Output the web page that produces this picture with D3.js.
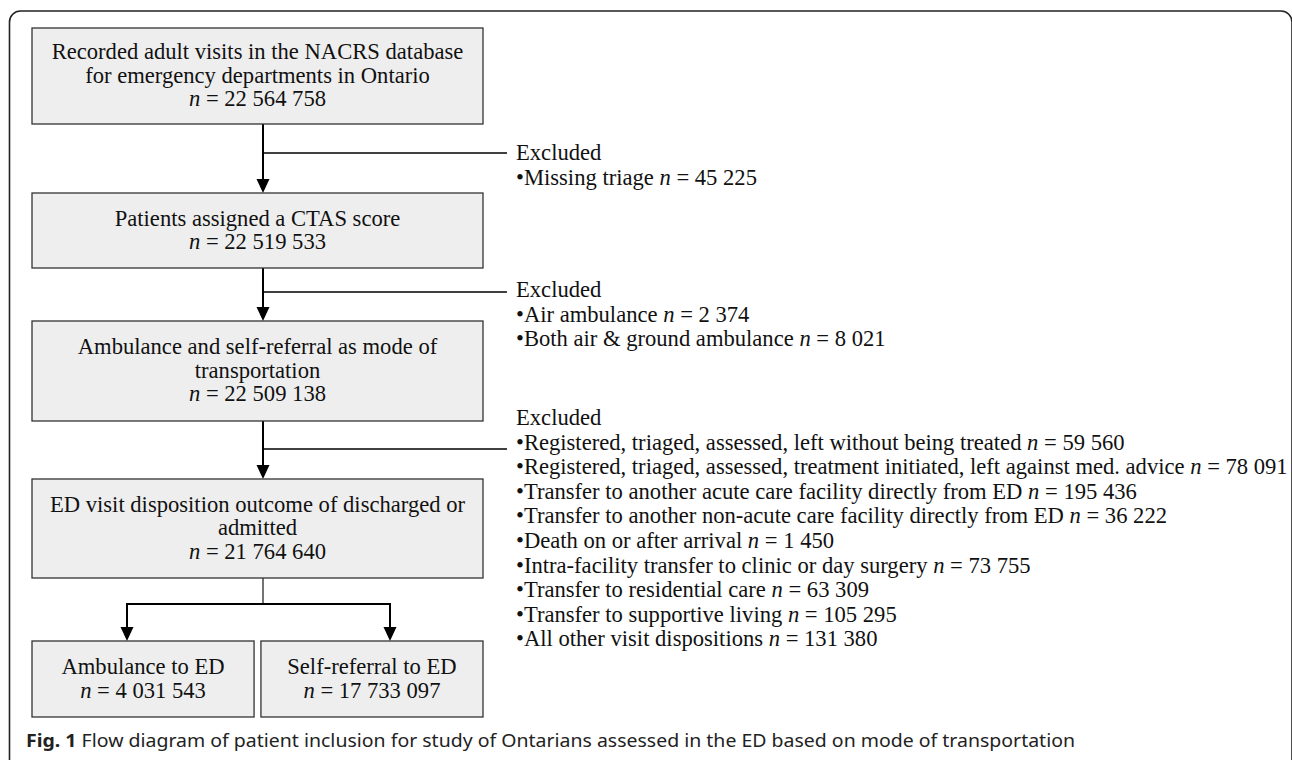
<!DOCTYPE html>
<html>
<head>
<meta charset="utf-8">
<script src="https://cdn.jsdelivr.net/npm/d3@7"></script>
<style>
  body { margin: 0; background: #fff; }
  .boxText, .exText { font-family: "Liberation Serif", "Times New Roman", serif; font-size: 22.6px; fill: #111; }
  .caption { font-family: "Noto Sans", sans-serif; font-size: 18px; fill: #222; }
</style>
</head>
<body>
<div id="flow"></div>
<script>
// flow steps (main column)
const stepLabels = [
    ["Recorded adult visits in the NACRS database", "for emergency departments in Ontario"],
    ["Patients assigned a CTAS score"],
    ["Ambulance and self-referral as mode of", "transportation"],
    ["ED visit disposition outcome of discharged or", "admitted"]
];
const stepCounts = [22564758, 22519533, 22509138, 21764640];

// final split
const splitLabels = [["Ambulance to ED"], ["Self-referral to ED"]];
const splitCounts = [4031543, 17733097];

// exclusions between steps
const excludedTitle = "Excluded";
const excludedLabels = [
    ["Missing triage"],
    ["Air ambulance", "Both air & ground ambulance"],
    ["Registered, triaged, assessed, left without being treated",
     "Registered, triaged, assessed, treatment initiated, left against med. advice",
     "Transfer to another acute care facility directly from ED",
     "Transfer to another non-acute care facility directly from ED",
     "Death on or after arrival",
     "Intra-facility transfer to clinic or day surgery",
     "Transfer to residential care",
     "Transfer to supportive living",
     "All other visit dispositions"]
];
const excludedCounts = [
    [45225],
    [2374, 8021],
    [59560, 78091, 195436, 36222, 1450, 73755, 63309, 105295, 131380]
];

const captionBold = "Fig. 1";
const captionText = "Flow diagram of patient inclusion for study of Ontarians assessed in the ED based on mode of transportation";

// layout (pixels)
const width = 1292, height = 760;
const boxLeft = 32, boxRight = 483, mainX = 263;
const stepTop = [28, 193, 321, 479],
      stepBottom = [124, 268, 421, 578];
const branchY = [153, 292, 449];
const branchEnd = 507, exX = 516;
const exTitleY = [160, 297, 425];
const lineH = 23.5, exLineH = 24.6;
const splitY = 604, splitTop = 641, splitBottom = 717, splitArrowX = [127, 390];

// numbers with space as thousands separator
const fmt = d3.formatLocale({decimal: ".", thousands: " ", grouping: [3], currency: ["", ""]}).format(",d");

const svg = d3.select("#flow").append("svg")
    .attr("width", width)
    .attr("height", height);

// outer frame, bottom runs off the page
svg.append("rect")
    .attr("x", 9.5).attr("y", 11)
    .attr("width", 1282.5).attr("height", 820)
    .attr("rx", 11)
    .attr("fill", "none")
    .attr("stroke", "#222")
    .attr("stroke-width", 1.6);

const splitX = d3.scaleBand()
    .domain(d3.range(splitLabels.length))
    .range([boxLeft, boxRight])
    .paddingInner(0.03);

function arrow(x, y1, y2, w) {
    svg.append("line")
        .attr("x1", x).attr("x2", x)
        .attr("y1", y1).attr("y2", y2 - 12)
        .attr("stroke", "#000")
        .attr("stroke-width", w);
    svg.append("path")
        .attr("d", "M" + (x - 6.5) + "," + (y2 - 14) + "L" + (x + 6.5) + "," + (y2 - 14) + "L" + x + "," + y2 + "Z")
        .attr("fill", "#000");
}

function boxText(cx, cy, labels, count) {
    let lines = labels.concat([null]);
    let t = svg.append("g");
    lines.forEach(function(l, i) {
        let txt = t.append("text")
            .attr("class", "boxText")
            .attr("x", cx)
            .attr("y", cy - 1 + (i - (lines.length - 1) / 2) * lineH)
            .attr("dy", ".35em")
            .attr("text-anchor", "middle");
        if (l === null) {
            txt.append("tspan").attr("font-style", "italic").text("n");
            txt.append("tspan").text(" = " + fmt(count));
        } else {
            txt.text(l);
        }
    });
}

// connectors first so boxes sit on top
stepLabels.forEach(function(d, i) {
    if (i < stepLabels.length - 1) {
        arrow(mainX, stepBottom[i], stepTop[i + 1], 2);
        svg.append("line")
            .attr("x1", mainX).attr("x2", branchEnd)
            .attr("y1", branchY[i]).attr("y2", branchY[i])
            .attr("stroke", "#000")
            .attr("stroke-width", 1.4);
    }
});

svg.append("line")
    .attr("x1", mainX).attr("x2", mainX)
    .attr("y1", stepBottom[3]).attr("y2", splitY)
    .attr("stroke", "#000").attr("stroke-width", 1.1);
svg.append("line")
    .attr("x1", splitArrowX[0] - 1).attr("x2", splitArrowX[1] + 1)
    .attr("y1", splitY).attr("y2", splitY)
    .attr("stroke", "#000").attr("stroke-width", 2);
splitArrowX.forEach(function(x) { arrow(x, splitY - 1, splitTop, 2); });

// main boxes
svg.selectAll(".stepBox")
    .data(stepLabels)
    .enter()
    .append("rect")
    .attr("class", "stepBox")
    .attr("x", boxLeft)
    .attr("y", function(d, i) { return stepTop[i]; })
    .attr("width", boxRight - boxLeft)
    .attr("height", function(d, i) { return stepBottom[i] - stepTop[i]; })
    .attr("fill", "#eeeeee")
    .attr("stroke", "#333")
    .attr("stroke-width", 1.3);

stepLabels.forEach(function(d, i) {
    boxText((boxLeft + boxRight) / 2, (stepTop[i] + stepBottom[i]) / 2, d, stepCounts[i]);
});

// split boxes
svg.selectAll(".splitBox")
    .data(splitLabels)
    .enter()
    .append("rect")
    .attr("class", "splitBox")
    .attr("x", function(d, i) { return splitX(i); })
    .attr("y", splitTop)
    .attr("width", splitX.bandwidth())
    .attr("height", splitBottom - splitTop)
    .attr("fill", "#eeeeee")
    .attr("stroke", "#333")
    .attr("stroke-width", 1.3);

splitLabels.forEach(function(d, i) {
    boxText(splitX(i) + splitX.bandwidth() / 2, (splitTop + splitBottom) / 2, d, splitCounts[i]);
});

// exclusion lists
excludedLabels.forEach(function(group, g) {
    svg.append("text")
        .attr("class", "exText")
        .attr("x", exX)
        .attr("y", exTitleY[g])
        .text(excludedTitle);
    group.forEach(function(l, j) {
        let txt = svg.append("text")
            .attr("class", "exText")
            .attr("x", exX)
            .attr("y", exTitleY[g] + (j + 1) * exLineH);
        txt.append("tspan").text("\u2022" + l + " ");
        txt.append("tspan").attr("font-style", "italic").text("n");
        txt.append("tspan").text(" = " + fmt(excludedCounts[g][j]));
    });
});

// caption
let cap = svg.append("text")
    .attr("class", "caption")
    .attr("x", 26)
    .attr("y", 747)
    .attr("textLength", 1049)
    .attr("lengthAdjust", "spacingAndGlyphs");
cap.append("tspan").attr("font-weight", "bold").text(captionBold);
cap.append("tspan").text(" " + captionText);
</script>
</body>
</html>
